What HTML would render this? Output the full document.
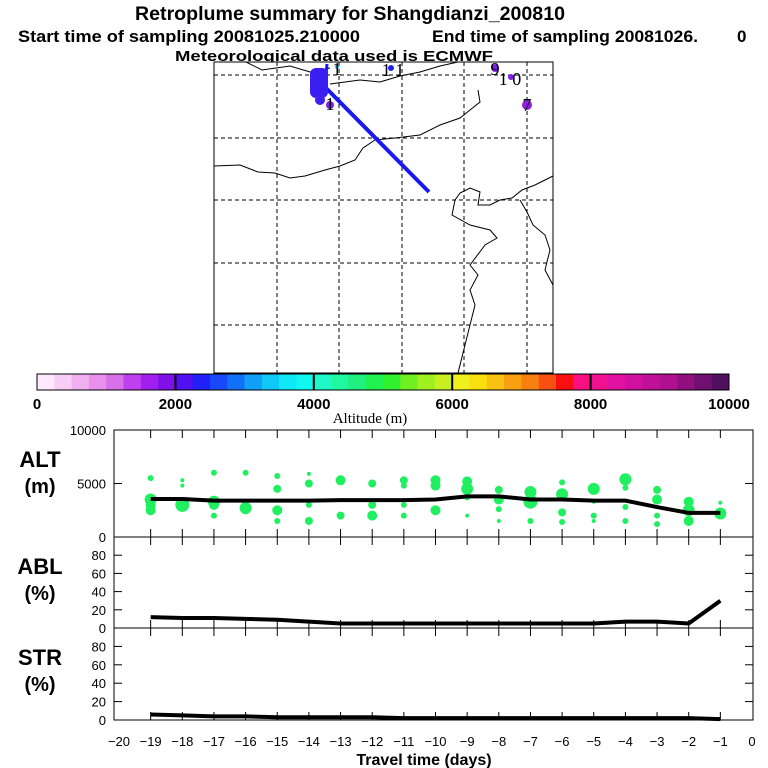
<!DOCTYPE html>
<html><head><meta charset="utf-8">
<style>
body{margin:0;background:#fff;}
svg{display:block;font-family:"Liberation Sans",sans-serif;}
</style></head>
<body>
<svg id="c" width="768" height="768" viewBox="0 0 768 768">
<g font-weight="bold" text-anchor="start">
<text x="135" y="20" font-size="19" textLength="430" lengthAdjust="spacingAndGlyphs">Retroplume summary for Shangdianzi_200810</text>
<text x="18" y="42" font-size="17" textLength="342" lengthAdjust="spacingAndGlyphs">Start time of sampling 20081025.210000</text>
<text x="432" y="42" font-size="17" textLength="266" lengthAdjust="spacingAndGlyphs">End time of sampling 20081026.</text>
<text x="737" y="42" font-size="17">0</text>
<text x="175" y="61" font-size="15" textLength="318" lengthAdjust="spacingAndGlyphs">Meteorological data used is ECMWF</text>
</g>
<g id="map"></g>
<g id="cbar"></g>
<g id="panels"></g>
</svg>
<script>
const days=[-19,-18,-17,-16,-15,-14,-13,-12,-11,-10,-9,-8,-7,-6,-5,-4,-3,-2,-1];
const altMean=[3550,3550,3400,3400,3400,3400,3450,3450,3450,3500,3800,3800,3500,3500,3400,3400,2800,2250,2250];
const ablMean=[12,11,11,10,9,7,5,5,5,5,5,5,5,5,5,7,7,5,30];
const strMean=[6,5,4,4,3,3,3,3,2,2,2,2,2,2,2,2,2,2,1];
const altDots=[[5500,3500,3000,2500],[5300,4800,3300,3000],[6000,3300,3000,2000],[6000,3000,2700,2500],[5700,4500,2500,1500],[5900,5000,3000,1500],[5300,2000],[5000,3000,2000],[5300,4800,3000,2000],[5300,4800,2500],[5200,4500,3700,2000],[4400,3500,2600,1500],[4200,3300,1500],[5100,4000,2300,1400],[4500,3300,2000,1500],[5400,4600,2800,1500],[4400,3500,2000,1200],[3300,2500,1500],[3200,2200]];
const altDotR=[[3,6,5,5],[2,2,3,7],[3,6,5,3],[3,3,6,4],[3,4,5,3],[2,4,3,4],[5,4],[4,4,5],[4,3,3,3],[5,5,5],[5,6,3,2],[4,5,3,2],[6,7,3],[3,6,4,3],[6,2,3,2],[6,3,3,3],[4,5,3,3],[5,6,5],[2,6]];
const cbTicks=[0,2000,4000,6000,8000,10000];
const cbColors=["#fde8fd","#f8cdf8","#f0b0f0","#e890ec","#d870e8","#c040f0","#a020f0","#8010e8","#5010f0","#2020f8","#1848f8","#1070f8","#10a0f8","#10c8f8","#10e8f8","#10f8f0","#20f8c8","#20f8a0","#20f080","#20f050","#30f030","#70f020","#a0f020","#c8f020","#f0f020","#f8e010","#f8c010","#f8a010","#f88010","#f85010","#f81010","#f81080","#f01090","#e010a0","#d010a0","#c01098","#b01090","#901080","#701070","#501060"];
const NS="http://www.w3.org/2000/svg";
const svg=document.getElementById('c');
function mk(tag,attrs,parent,txt){const e=document.createElementNS(NS,tag);for(const k in attrs)e.setAttribute(k,attrs[k]);if(txt!==undefined)e.textContent=txt;(parent||svg).appendChild(e);return e;}
const map=document.getElementById('map');
let e=mk('rect',{x:214,y:62,width:339,height:311,fill:'#fff',stroke:'#000','stroke-width':1},map);

[277,339,402,464,527].forEach(x=>{e=mk('line',{x1:x,y1:62,x2:x,y2:373,stroke:'#000','stroke-dasharray':'4,3','stroke-width':1},map);});
[75,138,200,263,325].forEach(y=>{e=mk('line',{x1:214,y1:y,x2:553,y2:y,stroke:'#000','stroke-dasharray':'4,3','stroke-width':1},map);});
const coast=["M246,62 L262,70 L290,66 L310,72 L330,68","M330,84 L360,80 L380,82 L400,76 L420,72 L440,66 L458,62","M214,166 L240,165 L258,172 L275,173 L290,178 L305,176 L325,170 L340,166 L355,160 L363,148 L375,140 L395,138 L420,135 L440,125 L460,118 L470,110 L480,102 L478,90","M455,200 L460,193 L470,188 L480,192 L478,205 L490,205 L500,200 L512,198 L522,190 L535,185 L545,180 L553,176","M455,200 L452,215 L470,225 L490,230 L497,238 L485,245 L470,265 L478,275 L470,290 L475,305 L470,325 L465,345 L458,373","M520,200 L527,212 L533,225 L545,235 L550,250 L545,270 L553,285"];
coast.forEach(d=>{e=mk('path',{d:d,fill:'none',stroke:'#000','stroke-width':1},map);});
e=mk('line',{x1:326,y1:88,x2:429,y2:192,stroke:'#1a1af0','stroke-width':4},map);
e=mk('line',{x1:327,y1:64,x2:325,y2:88,stroke:'#1a1af0','stroke-width':3},map);
e=mk('rect',{x:310,y:68,width:18,height:30,rx:6,fill:'#3a20f0'},map);
[[320,100,5,'#4020f0'],[330,105,4,'#8020e8'],[337,67,2,'#30c0f0'],[391,68,3,'#2020f0'],[495,68,4,'#8020e8'],[511,77,3,'#8020e8'],[527,105,5,'#9020e0']].forEach(p=>{e=mk('circle',{cx:p[0],cy:p[1],r:p[2],fill:p[3]},map);});
[['1',330,110],['1',337,75],['1 1',393,76],['9',495,75],['1 0',510,85],['7',527,111]].forEach(t=>{e=mk('text',{x:t[1],y:t[2],'font-size':18,'font-family':'Liberation Serif,serif','text-anchor':'middle'},map,t[0]);});
const cb=document.getElementById('cbar');
const cbx=v=>37+v/10000*692;
cbColors.forEach((c,i)=>{e=mk('rect',{x:cbx(i*250),y:374,width:692/40+0.3,height:16,fill:c},cb);});
e=mk('rect',{x:37,y:374,width:692,height:16,fill:'none',stroke:'#000'},cb);
cbTicks.forEach(v=>{if(v>0&&v<10000){e=mk('line',{x1:cbx(v),y1:374,x2:cbx(v),y2:390,stroke:'#000','stroke-width':2},cb);}
e=mk('text',{x:cbx(v),y:409,'font-size':15,'font-weight':'bold','text-anchor':'middle'},cb,String(v));});
e=mk('text',{x:370,y:423,'font-size':15,'font-family':'Liberation Serif,serif','text-anchor':'middle'},cb,'Altitude (m)');
const X=d=>752+d*31.65;
const L=114,R=753;
function panel(name,top,bot,max,ticks,label,unit,means,dots){
 const g=mk('g',{},document.getElementById('panels'));
 
 const Y=v=>bot-(v/max)*(bot-top);
 e=mk('rect',{x:L,y:top,width:R-L,height:bot-top,fill:'none',stroke:'#000'},g);
 ticks.forEach(t=>{e=mk('text',{x:106,y:Y(t)+5,'font-size':13,'text-anchor':'end'},g,String(t));
  e=mk('line',{x1:L,y1:Y(t),x2:L+8,y2:Y(t),stroke:'#000'},g);
  e=mk('line',{x1:R-8,y1:Y(t),x2:R,y2:Y(t),stroke:'#000'},g);});
 days.forEach(d=>{e=mk('line',{x1:X(d),y1:top,x2:X(d),y2:top+8,stroke:'#000'},g);
  e=mk('line',{x1:X(d),y1:bot-8,x2:X(d),y2:bot,stroke:'#000'},g);});
 e=mk('text',{x:40,y:top+37,'font-size':22,'font-weight':'bold','text-anchor':'middle'},g,label);
 e=mk('text',{x:40,y:top+63,'font-size':20,'font-weight':'bold','text-anchor':'middle'},g,unit);
 if(dots){dots.forEach((arr,i)=>arr.forEach((v,j)=>{e=mk('circle',{cx:X(days[i]),cy:Y(v),r:altDotR[i][j],fill:'#20f060'},g);}));}
 e=mk('polyline',{points:means.map((v,i)=>X(days[i])+','+Y(v)).join(' '),fill:'none',stroke:'#000','stroke-width':4},g);
}
panel('alt',430,537,10000,[0,5000,10000],'ALT','(m)',altMean,altDots);
panel('abl',537,628,100,[0,20,40,60,80],'ABL','(%)',ablMean,null);
panel('str',628,720,100,[0,20,40,60,80],'STR','(%)',strMean,null);
for(let d=-20;d<=0;d++){e=mk('text',{x:X(d),y:746,'font-size':13,'text-anchor':'middle'},svg,d<0?'\u2212'+(-d):String(d));}
e=mk('text',{x:424,y:765,'font-size':16,'font-weight':'bold','text-anchor':'middle'},svg,'Travel time (days)');
</script>
</body></html>
